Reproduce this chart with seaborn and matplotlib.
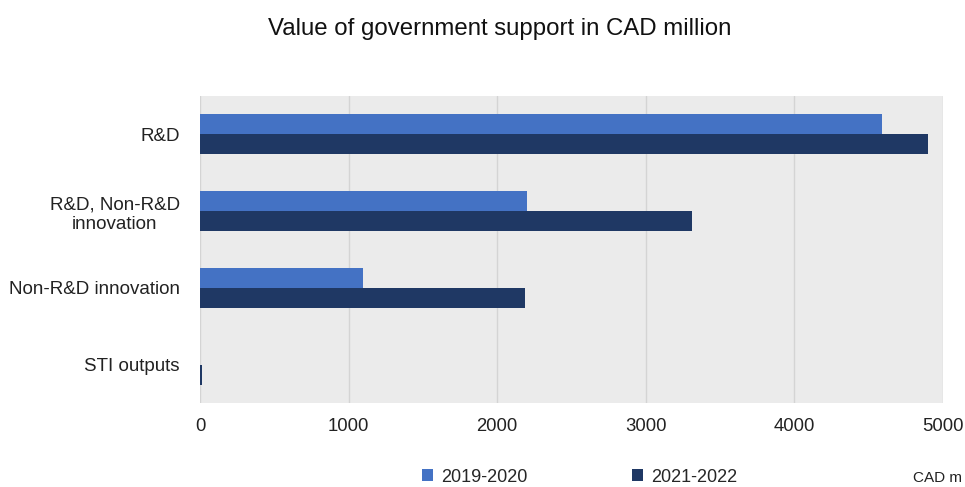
import matplotlib
matplotlib.use("Agg")
import matplotlib.pyplot as plt
import seaborn as sns
import pandas as pd
from matplotlib.patches import Patch

categories = ["R&D", "R&D, Non-R&D\ninnovation", "Non-R&D innovation", "STI outputs"]
series_names = ["2019-2020", "2021-2022"]
values_2019_2020 = [4590, 2200, 1100, 0]
values_2021_2022 = [4900, 3310, 2190, 12]
x_ticks = [0, 1000, 2000, 3000, 4000, 5000]
colors = ["#4472c4", "#1f3864"]

df = pd.DataFrame({
    "category": categories * 2,
    "period": [series_names[0]] * 4 + [series_names[1]] * 4,
    "value": values_2019_2020 + values_2021_2022,
})

sns.set_theme(style="white")
plt.rcParams["font.family"] = ["Liberation Sans", "DejaVu Sans"]

fig = plt.figure(figsize=(9.65, 4.87), dpi=100)
ax = fig.add_axes([200 / 965, 1 - 403 / 487, 743 / 965, 307 / 487])
ax.set_facecolor("#ebebeb")

sns.barplot(data=df, y="category", x="value", hue="period", order=categories,
            hue_order=series_names, palette=colors, orient="h", width=0.52,
            saturation=1, ax=ax, legend=False, linewidth=0)

ax.set_xlim(0, 5000)
ax.set_ylim(3.5, -0.5)
ax.set_xticks(x_ticks)
ax.set_xticklabels([str(t) for t in x_ticks], fontsize=13.3, color="#222222")
ax.set_yticklabels(categories, fontsize=13.5, color="#222222")
for lbl in ax.get_yticklabels():
    lbl.set_multialignment("center")
ax.tick_params(axis="x", length=0, pad=11)
ax.tick_params(axis="y", length=0, pad=14.4)
ax.set_xlabel("")
ax.set_ylabel("")
ax.set_axisbelow(True)
ax.grid(axis="x", color="#d4d4d4", linewidth=1)
ax.grid(axis="y", visible=False)
for s in ax.spines.values():
    s.set_visible(False)

fig.text(500 / 965, 1 - 29 / 487, "Value of government support in CAD million",
         ha="center", va="center", fontsize=17.3,
         family=["Liberation Sans Narrow", "Liberation Sans", "DejaVu Sans"],
         color="#111111")

handles = [Patch(facecolor=c, edgecolor="none") for c in colors]
fig.legend(handles, series_names, loc="center", bbox_to_anchor=(580 / 965, 1 - 477 / 487),
           ncol=2, frameon=False, fontsize=13, handlelength=0.6, handleheight=0.6,
           handletextpad=0.45, columnspacing=5.8, borderpad=0)

fig.text(962 / 965, 1 - 478 / 487, "CAD m", ha="right", va="center", fontsize=11,
         color="#222222")

fig.savefig("out.png", dpi=100, facecolor="white")
